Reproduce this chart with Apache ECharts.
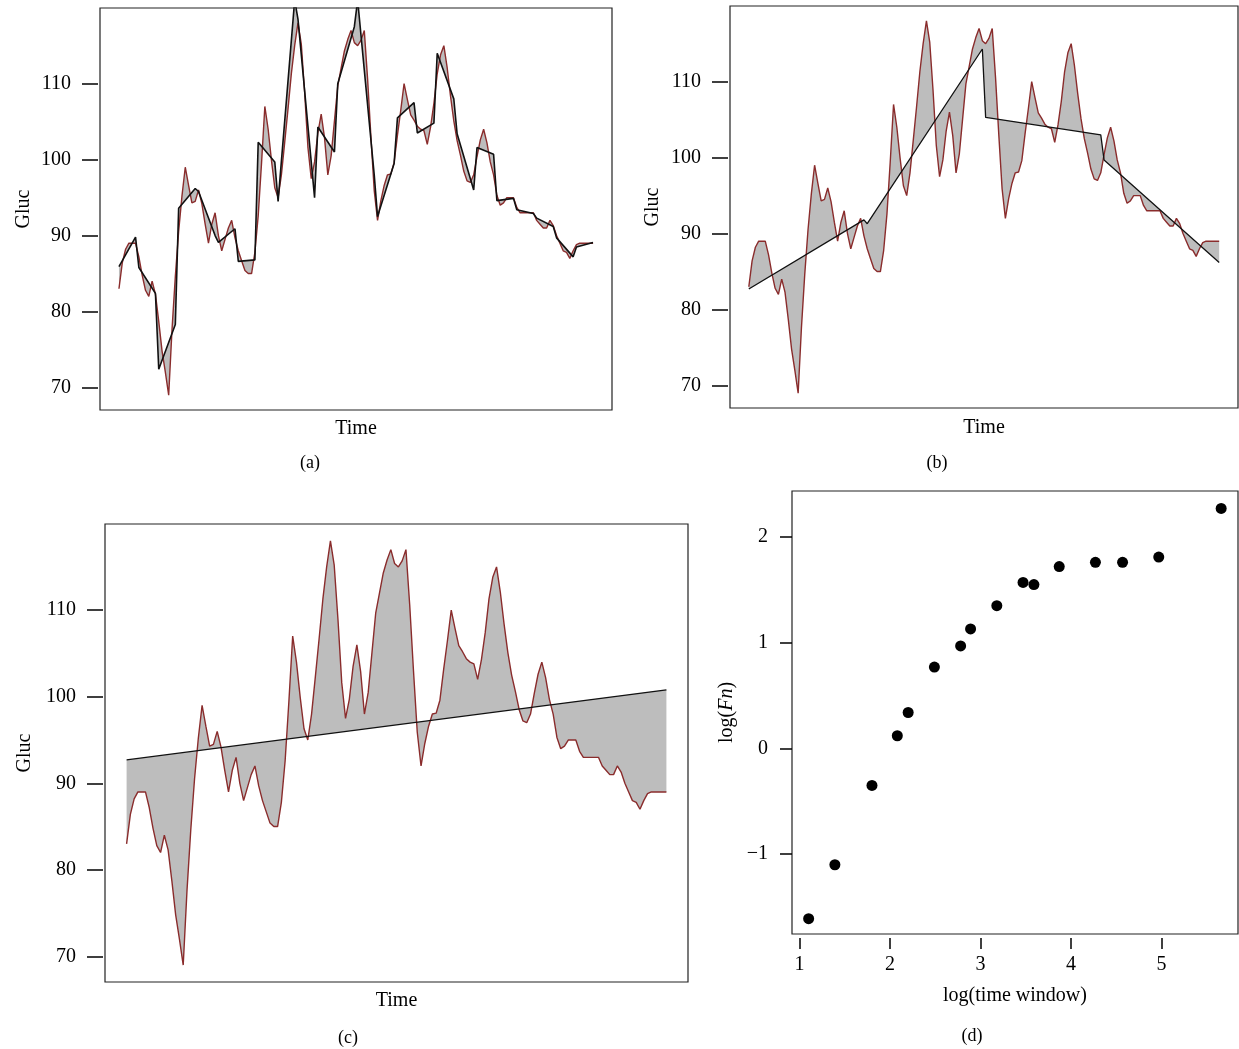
<!DOCTYPE html>
<html>
<head>
<meta charset="utf-8">
<script src="https://cdn.jsdelivr.net/npm/echarts@6/dist/echarts.min.js"></script>
<style>
html,body{margin:0;padding:0;background:#fff;}
#main{width:1239px;height:1049px;}
</style>
</head>
<body>
<div id="main"></div>
<script>
// glucose readings (one value every 2 samples, 144 points)
var gluc = [
  83, 86.4, 88.2, 89, 89, 89, 87.2, 84.8, 82.8, 82,
  84, 82.3, 78.7, 74.8, 72, 69, 77.6, 84.6, 90.5, 95.2,
  99, 96.6, 94.3, 94.5, 96, 94.2, 91.5, 89, 91.5, 93,
  90, 88, 89.5, 91, 92, 89.7, 88, 86.7, 85.4, 85,
  85, 87.8, 92.6, 99.5, 107, 104, 99.9, 96.3, 95, 98,
  102.3, 106.7, 111.3, 115, 118, 115.2, 108.9, 101.6, 97.5, 99.7,
  103.5, 106, 102.9, 98, 100.5, 105.1, 109.7, 112, 114.3, 115.8,
  117, 115.4, 115, 115.7, 117, 110.6, 103, 95.9, 92, 94.6,
  96.6, 98, 98.1, 99.6, 103.2, 106.5, 110, 107.9, 105.9, 105.2,
  104.4, 104, 103.8, 102, 104.3, 107.4, 111.3, 113.8, 115, 112.1,
  108.4, 105.1, 102.5, 100.6, 98.5, 97.2, 97, 98, 100.4, 102.6,
  104, 102.2, 99.7, 98, 95.3, 94, 94.3, 95, 95, 95,
  93.7, 93, 93, 93, 93, 93, 92, 91.5, 91, 91,
  92, 91.3, 90, 89, 88, 87.8, 87, 88, 88.8, 89,
  89, 89, 89, 89
];

// local trend lines: [start value, end value] of each window
var trendA = [
  [85.9, 89.8], [85.8, 82.4], [72.4, 78.3], [93.6, 96.2], [95.8, 90.0], [89.1, 90.9],
  [86.6, 86.8], [102.3, 99.7], [94.5, 121], [118.5, 95], [104.3, 101], [110, 117.5],
  [121, 98], [92.5, 99.5], [105.5, 107.5], [103.5, 104.8], [114, 108], [103.4, 96],
  [101.6, 100.7], [94.6, 94.9], [93.4, 92.9], [92.3, 91.2], [89.7, 87.2], [88.5, 89.1]
];
var trendB = [[82.7, 91.8], [91.3, 114.3], [105.3, 103.0], [99.7, 86.2]];
var trendC = [[92.7, 100.8]];

// panel (d)
var windowLog = [1.10, 1.39, 1.80, 2.08, 2.20, 2.49, 2.78, 2.89, 3.18, 3.47, 3.59, 3.87, 4.27, 4.57, 4.97, 5.66];
var fnLog = [-1.61, -1.10, -0.35, 0.12, 0.34, 0.77, 0.97, 1.13, 1.35, 1.57, 1.55, 1.72, 1.76, 1.76, 1.81, 2.27];

var glucTicks = [70, 80, 90, 100, 110];
var dxTicks = [1, 2, 3, 4, 5];
var dyTicks = [-1, 0, 1, 2];

var FONT = '"Liberation Serif", "DejaVu Serif", serif';

function glucPoints() {
  return gluc.map(function (v, i) { return [i, v]; });
}

function trendPoints(segs) {
  var len = gluc.length / segs.length;
  var pts = [];
  segs.forEach(function (s, k) {
    pts.push([k * len, s[0]]);
    pts.push([k * len + len - 1, s[1]]);
  });
  return pts;
}

// gray area between the series and its trend
function fillSeries(idx, tPts) {
  return {
    type: 'custom',
    xAxisIndex: idx,
    yAxisIndex: idx,
    silent: true,
    z: 1,
    data: [[0, gluc[0]]],
    renderItem: function (params, api) {
      var pts = [];
      for (var i = 0; i < gluc.length; i++) pts.push(api.coord([i, gluc[i]]));
      for (var j = tPts.length - 1; j >= 0; j--) pts.push(api.coord(tPts[j]));
      var cs = params.coordSys;
      return {
        type: 'polygon',
        shape: { points: pts },
        style: { fill: '#bdbdbd', stroke: null },
        clipPath: { type: 'rect', shape: { x: cs.x, y: cs.y, width: cs.width, height: cs.height } }
      };
    }
  };
}

var grids = [
  { left: 100, top: 8, width: 512, height: 402 },
  { left: 730, top: 6, width: 508, height: 402 },
  { left: 105, top: 524, width: 583, height: 458 },
  { left: 792, top: 491, width: 446, height: 443 }
];
grids.forEach(function (g) {
  g.show = true;
  g.borderColor = '#222';
  g.borderWidth = 1.2;
  g.outerBoundsMode = 'none';
});

var nameStyle = { fontFamily: FONT, fontSize: 20, color: '#000' };
var xNameGaps = [9, 10, 9];
var yNameGaps = [64, 65, 68];

var xAxes = [], yAxes = [];
for (var i = 0; i < 3; i++) {
  xAxes.push({
    type: 'value', gridIndex: i, min: -5.72, max: 148.72,
    axisLine: { show: false, onZero: false }, axisTick: { show: false }, axisLabel: { show: false },
    splitLine: { show: false },
    name: 'Time', nameLocation: 'middle', nameGap: xNameGaps[i], nameTextStyle: nameStyle
  });
  yAxes.push({
    type: 'value', gridIndex: i, min: 67.04, max: 119.96, offset: 2,
    axisLine: { show: false, onZero: false }, splitLine: { show: false },
    axisTick: { show: true, length: 16, customValues: glucTicks, lineStyle: { color: '#000', width: 1.5 } },
    axisLabel: { customValues: glucTicks, margin: 27, color: '#000', fontFamily: FONT, fontSize: 20 },
    name: 'Gluc', nameLocation: 'middle', nameGap: yNameGaps[i], nameTextStyle: nameStyle
  });
}
xAxes.push({
  type: 'value', gridIndex: 3, min: 0.916, max: 5.846, offset: 4,
  axisLine: { show: false, onZero: false }, splitLine: { show: false },
  axisTick: { show: true, length: 11, customValues: dxTicks, lineStyle: { color: '#000', width: 1.5 } },
  axisLabel: { customValues: dxTicks, margin: 17, color: '#000', fontFamily: FONT, fontSize: 20 },
  name: 'log(time window)', nameLocation: 'middle', nameGap: 48, nameTextStyle: nameStyle
});
yAxes.push({
  type: 'value', gridIndex: 3, min: -1.755, max: 2.435,
  axisLine: { show: false, onZero: false }, splitLine: { show: false },
  axisTick: { show: true, length: 12, customValues: dyTicks, lineStyle: { color: '#000', width: 1.5 } },
  axisLabel: {
    customValues: dyTicks, margin: 24, color: '#000', fontFamily: FONT, fontSize: 20,
    formatter: function (v) { return v < 0 ? '\u2212' + Math.abs(v) : String(v); }
  },
  name: '{n|log(}{i|Fn}{n|)}', nameLocation: 'middle', nameGap: 55,
  nameTextStyle: {
    fontFamily: FONT, fontSize: 20, color: '#000',
    rich: {
      n: { fontFamily: FONT, fontSize: 20, color: '#000' },
      i: { fontFamily: FONT, fontSize: 20, color: '#000', fontStyle: 'italic' }
    }
  }
});

var trends = [trendPoints(trendA), trendPoints(trendB), trendPoints(trendC)];
var series = [];
for (var k = 0; k < 3; k++) {
  series.push(fillSeries(k, trends[k]));
  series.push({
    type: 'line', xAxisIndex: k, yAxisIndex: k, data: glucPoints(),
    symbol: 'none', clip: true, z: 3,
    lineStyle: { color: '#8a2c2c', width: 1.4 }
  });
  series.push({
    type: 'line', xAxisIndex: k, yAxisIndex: k, data: trends[k],
    symbol: 'none', clip: true, z: 4,
    lineStyle: { color: '#111', width: k === 0 ? 1.6 : 1.3 }
  });
}
series.push({
  type: 'scatter', xAxisIndex: 3, yAxisIndex: 3,
  data: windowLog.map(function (x, i) { return [x, fnLog[i]]; }),
  symbol: 'circle', symbolSize: 11,
  itemStyle: { color: '#000', opacity: 1 }
});

var captions = [['(a)', 310, 463], ['(b)', 937, 463], ['(c)', 348, 1038], ['(d)', 972, 1036]];

var myChart = echarts.init(document.getElementById('main'));
myChart.setOption({
  animation: false,
  backgroundColor: '#fff',
  grid: grids,
  xAxis: xAxes,
  yAxis: yAxes,
  series: series,
  graphic: captions.map(function (c) {
    return {
      type: 'text', x: c[1], y: c[2],
      style: { text: c[0], font: '18px ' + FONT, fill: '#000', textAlign: 'center', textVerticalAlign: 'middle' }
    };
  })
});
</script>
</body>
</html>
